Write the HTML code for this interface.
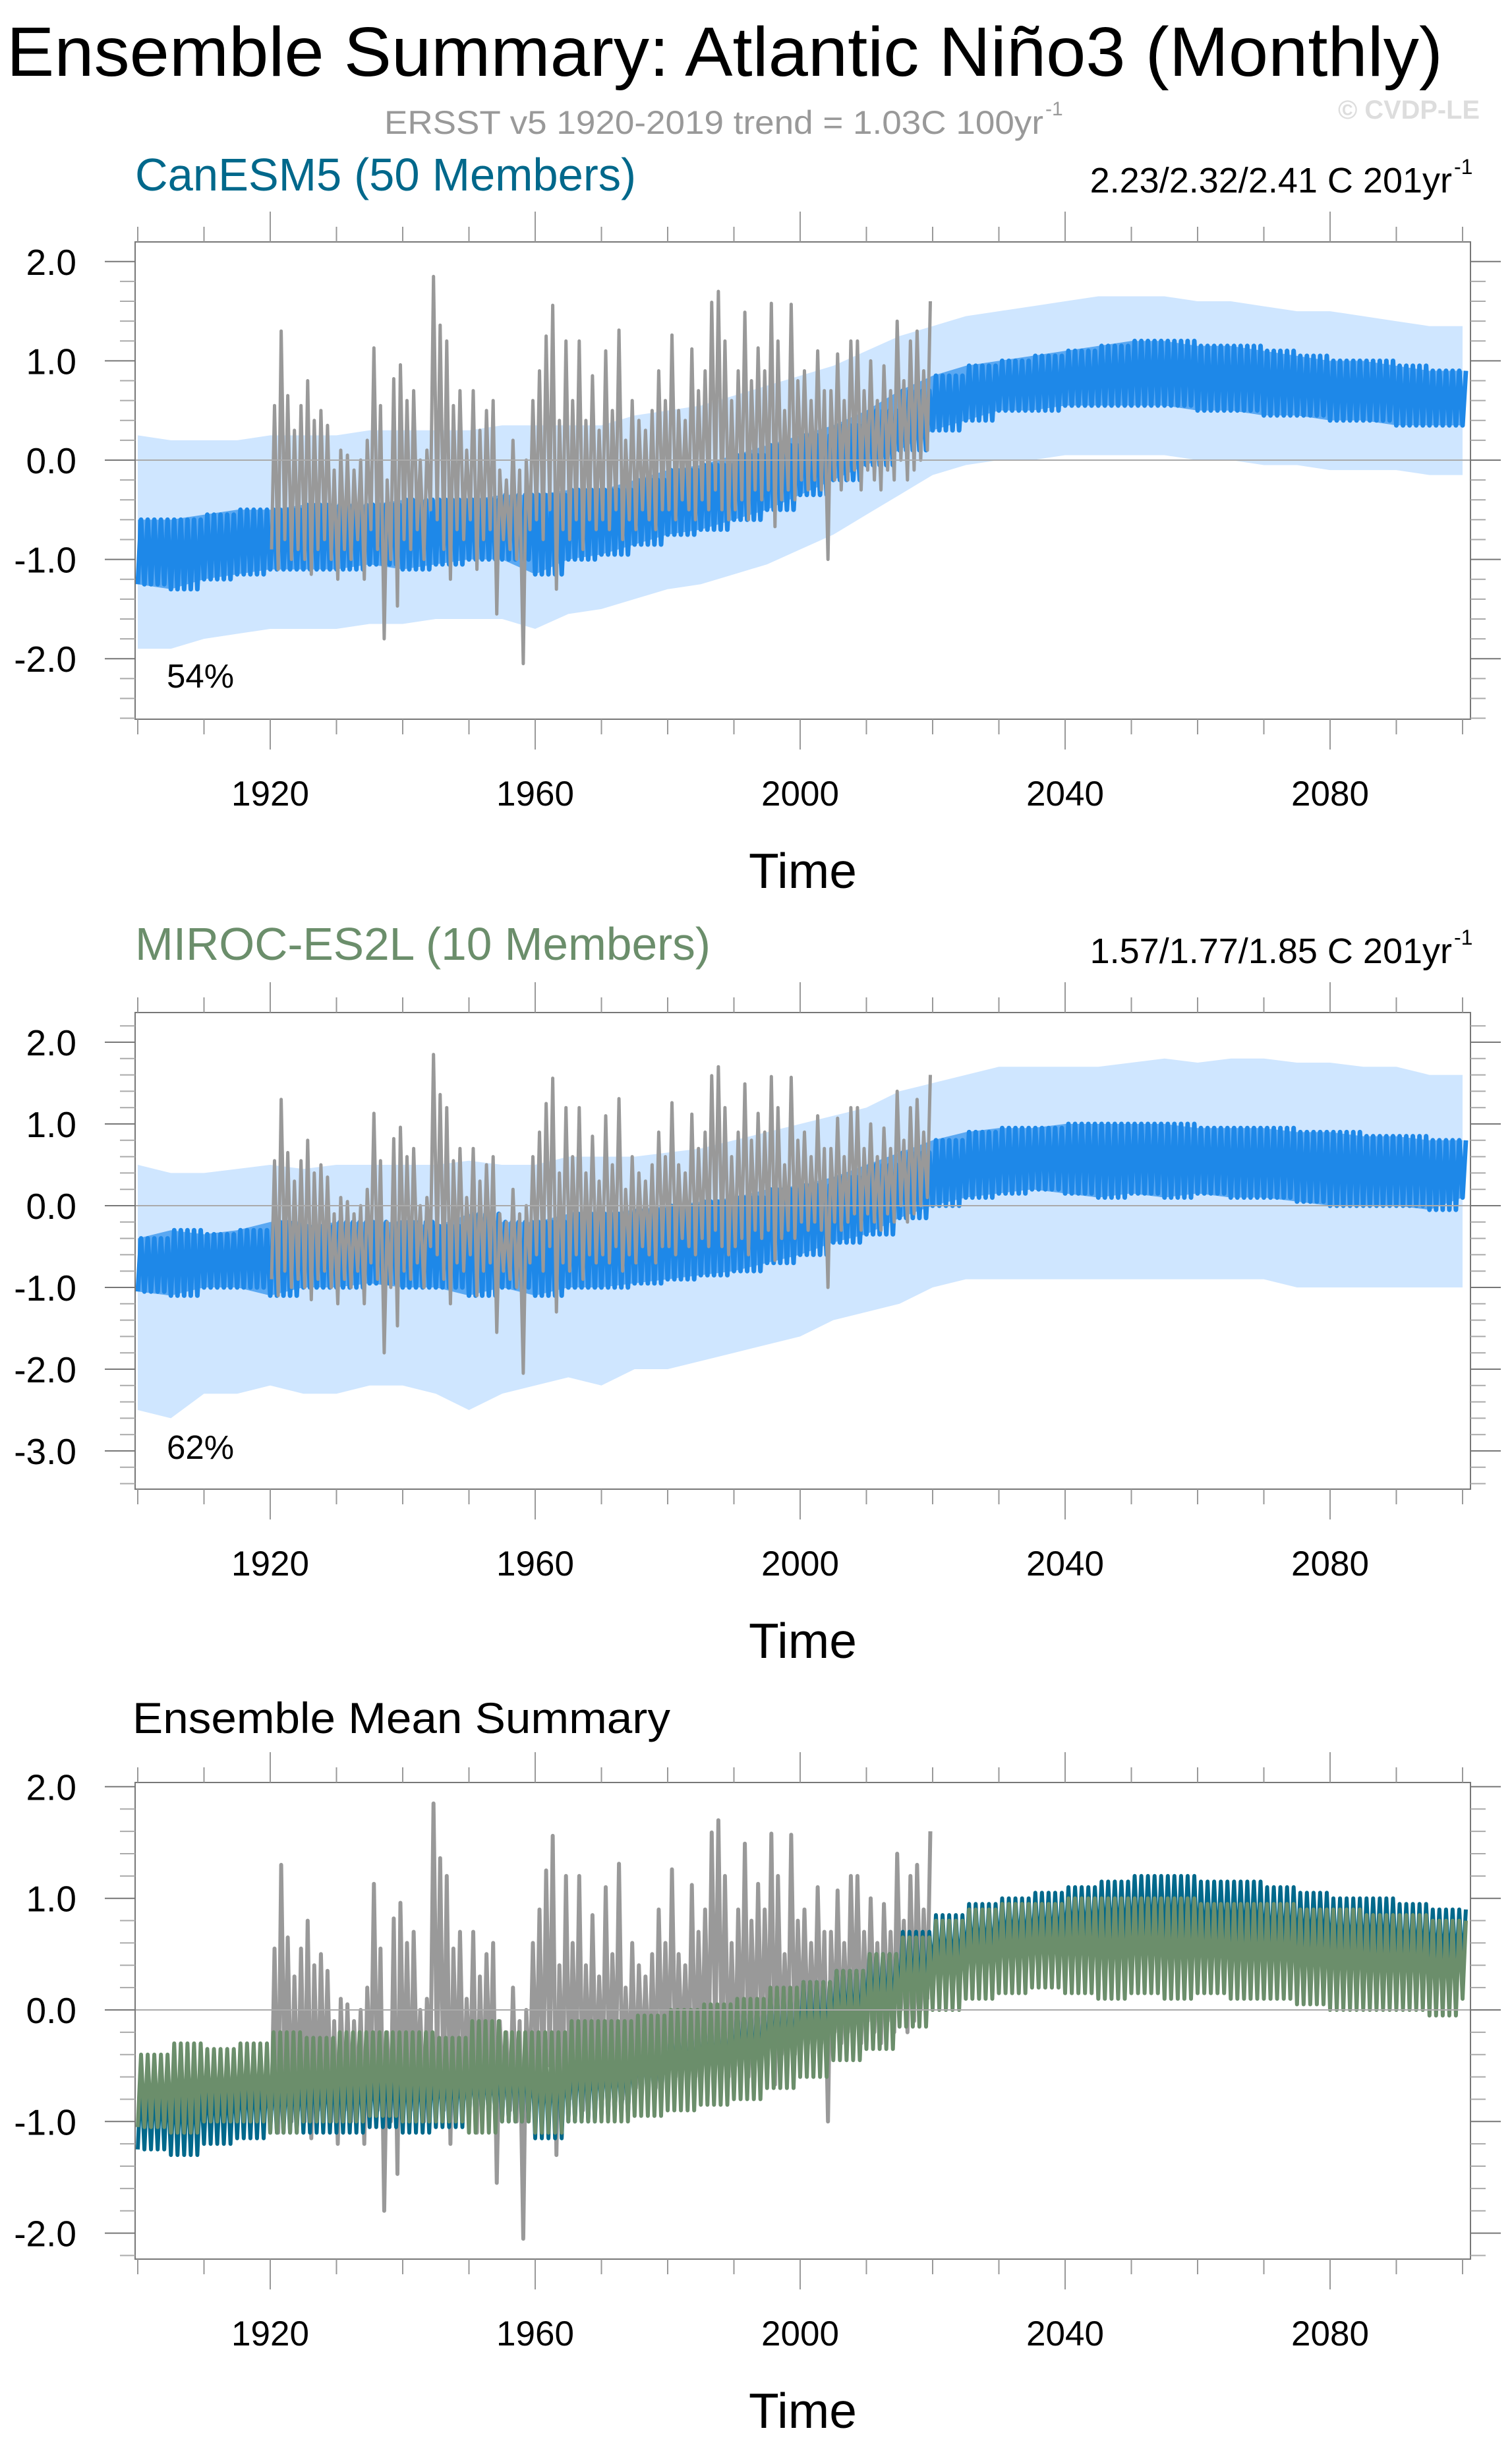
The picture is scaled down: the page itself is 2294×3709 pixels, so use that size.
<!DOCTYPE html>
<html><head><meta charset="utf-8"><style>
html,body{margin:0;padding:0;background:#fff}
svg{display:block;font-family:"Liberation Sans",Arial,sans-serif}
</style></head><body>
<svg id="fig" xmlns="http://www.w3.org/2000/svg" width="2294" height="3709" viewBox="0 0 2294 3709">
<rect width="2294" height="3709" fill="#fff"/>
<text x="10" y="115" font-size="106" textLength="2179" lengthAdjust="spacingAndGlyphs">Ensemble Summary: Atlantic Niño3 (Monthly)</text>
<text x="583" y="203" font-size="50" fill="#999" textLength="1000" lengthAdjust="spacingAndGlyphs">ERSST v5 1920-2019 trend = 1.03C 100yr</text>
<text x="1586" y="175" font-size="30" fill="#999">-1</text>
<text x="2030" y="180" font-size="40" font-weight="bold" fill="#ddd" textLength="215" lengthAdjust="spacingAndGlyphs">© CVDP-LE</text>

<text x="205" y="289" font-size="70" fill="#00688b" textLength="760" lengthAdjust="spacingAndGlyphs">CanESM5 (50 Members)</text>
<text x="2203" y="292" font-size="54" text-anchor="end">2.23/2.32/2.41 C 201yr</text>
<text x="2206" y="264" font-size="32">-1</text>

<text x="205" y="1456" font-size="70" fill="#6b8e6b" textLength="873" lengthAdjust="spacingAndGlyphs">MIROC-ES2L (10 Members)</text>
<text x="2203" y="1461" font-size="54" text-anchor="end">1.57/1.77/1.85 C 201yr</text>
<text x="2206" y="1433" font-size="32">-1</text>

<text x="201" y="2629" font-size="66" textLength="816" lengthAdjust="spacingAndGlyphs">Ensemble Mean Summary</text>
<g id="layers"></g>
</svg>
<script>
const years5 = [1900,1905,1910,1915,1920,1925,1930,1935,1940,1945,1950,1955,1960,1965,1970,1975,1980,1985,1990,1995,2000,2005,2010,2015,2020,2025,2030,2035,2040,2045,2050,2055,2060,2065,2070,2075,2080,2085,2090,2095,2100];
const canMeanLo = [-1.25,-1.3,-1.2,-1.15,-1.1,-1.1,-1.1,-1.05,-1.1,-1.05,-1.0,-1.0,-1.15,-1.0,-0.95,-0.85,-0.75,-0.7,-0.6,-0.5,-0.35,-0.2,-0.05,0.1,0.3,0.4,0.5,0.5,0.55,0.55,0.55,0.55,0.5,0.5,0.45,0.45,0.4,0.4,0.35,0.35,0.35];
const canMeanHi = [-0.6,-0.6,-0.55,-0.5,-0.5,-0.45,-0.45,-0.45,-0.4,-0.4,-0.4,-0.35,-0.35,-0.3,-0.3,-0.2,-0.1,-0.05,0.05,0.15,0.25,0.35,0.5,0.7,0.85,0.95,1.0,1.05,1.1,1.15,1.2,1.2,1.15,1.15,1.1,1.05,1.0,1.0,0.95,0.9,0.9];
const canEnvLo = [-1.9,-1.9,-1.8,-1.75,-1.7,-1.7,-1.7,-1.65,-1.65,-1.6,-1.6,-1.6,-1.7,-1.55,-1.5,-1.4,-1.3,-1.25,-1.15,-1.05,-0.9,-0.75,-0.55,-0.35,-0.15,-0.05,0.0,0.0,0.05,0.05,0.05,0.05,0.0,0.0,-0.05,-0.05,-0.1,-0.1,-0.1,-0.15,-0.15];
const canEnvHi = [0.25,0.2,0.2,0.2,0.25,0.25,0.25,0.3,0.3,0.3,0.3,0.35,0.35,0.35,0.35,0.45,0.5,0.55,0.65,0.75,0.85,0.95,1.1,1.25,1.35,1.45,1.5,1.55,1.6,1.65,1.65,1.65,1.6,1.6,1.55,1.5,1.5,1.45,1.4,1.35,1.35];
const mirMeanLo = [-1.05,-1.1,-1.0,-1.0,-1.1,-1.0,-1.0,-0.95,-1.0,-1.0,-1.1,-1.0,-1.1,-1.0,-1.0,-0.95,-0.9,-0.85,-0.8,-0.7,-0.6,-0.45,-0.35,-0.15,0.0,0.1,0.15,0.2,0.15,0.1,0.15,0.1,0.15,0.1,0.1,0.05,0.0,0.0,0.0,-0.05,0.1];
const mirMeanHi = [-0.4,-0.3,-0.35,-0.3,-0.2,-0.25,-0.2,-0.2,-0.2,-0.25,-0.1,-0.2,-0.2,-0.1,-0.1,-0.05,0.0,0.05,0.1,0.2,0.25,0.35,0.5,0.65,0.8,0.9,0.95,0.95,1.0,1.0,1.0,1.0,0.95,0.95,0.95,0.9,0.9,0.85,0.85,0.8,0.8];
const mirEnvLo = [-2.5,-2.6,-2.3,-2.3,-2.2,-2.3,-2.3,-2.2,-2.2,-2.3,-2.5,-2.3,-2.2,-2.1,-2.2,-2.0,-2.0,-1.9,-1.8,-1.7,-1.6,-1.4,-1.3,-1.2,-1.0,-0.9,-0.9,-0.9,-0.9,-0.9,-0.9,-0.9,-0.9,-0.9,-0.9,-1.0,-1.0,-1.0,-1.0,-1.0,-1.0];
const mirEnvHi = [0.5,0.4,0.4,0.45,0.5,0.45,0.5,0.5,0.5,0.5,0.55,0.5,0.5,0.6,0.6,0.6,0.65,0.7,0.8,0.9,1.0,1.1,1.2,1.4,1.5,1.6,1.7,1.7,1.7,1.7,1.75,1.8,1.75,1.8,1.8,1.75,1.75,1.7,1.7,1.6,1.6];
const obsStart = 1920;
const obsHi = [0.55,1.3,0.65,0.3,0.55,0.8,0.4,0.5,0.35,-0.1, 0.1,0.05,-0.1,0.0,0.2,1.13,0.55,-0.2,0.82,0.96, 0.6,0.7,0.0,0.1,1.85,1.36,1.2,0.55,0.7,0.1, 0.7,0.3,0.5,0.6,-0.1,-0.2,0.2,-0.1,0.0,0.6, 0.9,1.25,1.56,0.4,1.2,0.6,1.2,0.4,0.85,0.3, 1.1,0.5,1.31,0.2,0.6,0.4,0.3,0.5,0.9,0.6, 1.26,0.5,0.4,1.12,0.7,0.9,1.59,1.7,1.2,0.6, 0.9,1.49,0.8,1.13,0.9,1.58,1.2,0.5,1.57,0.8, 0.9,0.6,1.1,0.7,0.7,1.07,0.6,1.2,1.2,0.7, 1.0,0.6,0.95,0.7,1.4,0.8,1.2,1.3,0.9,1.6];
const obsLo = [-0.9,-1.1,-0.8,-1.0,-0.9,-1.0,-1.15,-0.9,-0.8,-1.0, -1.2,-0.9,-1.0,-0.8,-1.2,-0.7,-0.9,-1.8,-1.0,-1.47, -0.8,-0.9,-0.7,-1.0,-0.5,-0.6,-0.9,-1.2,-0.7,-0.8, -0.6,-1.1,-0.8,-0.7,-1.55,-0.8,-0.9,-1.0,-2.05,-0.7, -0.6,-0.8,-0.5,-1.3,-0.7,-0.8,-0.6,-0.9,-0.6,-0.7, -0.6,-0.7,-0.5,-0.8,-0.6,-0.7,-0.5,-0.6,-0.7,-0.5, -0.5,-0.6,-0.4,-0.5,-0.6,-0.4,-0.5,-0.3,-0.5,-0.6, -0.5,-0.4,-0.6,-0.3,-0.4,-0.3,-0.67,-0.4,-0.3,-0.4, -0.2,-0.3,-0.2,-0.3,-1.0,-0.2,-0.3,-0.2,-0.1,-0.3, -0.1,-0.2,-0.3,-0.1,-0.2,0.0,-0.2,-0.1,0.0,0.1];
const xTicks = [1920,1960,2000,2040,2080];
const yTicks1 = [2,1,0,-1,-2];
const yTicks2 = [2,1,0,-1,-2,-3];
const yTicks3 = [2,1,0,-1,-2];

const NS = "http://www.w3.org/2000/svg";
const layers = document.getElementById('layers');
const BOXL = 205, BOXR = 2231;
function xs(yr){ return 209 + (yr - 1900) * 10.05; }
function mk(tag, attrs, parent){ const e = document.createElementNS(NS, tag); for (const k in attrs) e.setAttribute(k, attrs[k]); (parent||layers).appendChild(e); return e; }
function makeY(zero, unit){ return v => zero - v * unit; }

function zigzag(lo, hi, ys){
  const pts = [];
  for (let i = 0; i < years5.length; i++){
    const n = (i === years5.length - 1) ? 1 : 5;
    for (let k = 0; k < n; k++){
      const yr = years5[i] + k;
      pts.push([xs(yr), ys(lo[i])]);
      pts.push([xs(yr + 0.5), ys(hi[i])]);
    }
  }
  return pts;
}
function bandPoly(lo, hi, ys){
  const up = years5.map((yr, i) => [xs(yr), ys(hi[i])]);
  const dn = years5.map((yr, i) => [xs(yr), ys(lo[i])]).reverse();
  return up.concat(dn);
}
function ptsStr(p){ return p.map(q => q[0].toFixed(1) + ',' + q[1].toFixed(1)).join(' '); }
function obsPts(ys){
  const p = [];
  for (let i = 0; i < obsHi.length; i++){
    p.push([xs(obsStart + i + 0.2), ys(obsLo[i])]);
    p.push([xs(obsStart + i + 0.65), ys(obsHi[i])]);
  }
  return p;
}

function axes(g, top, bot, ys, ticks, idx){
  const z = mk('line', {x1: BOXL, x2: BOXR, y1: ys(0), y2: ys(0), stroke: '#aaa', 'stroke-width': 2}, g);
  
  
  const box = mk('rect', {x: BOXL, y: top, width: BOXR - BOXL, height: bot - top, fill: 'none', stroke: '#777', 'stroke-width': 2}, g);
  
  
  for (let yr = 1900; yr <= 2100; yr += 10){
    const major = (yr - 1920) % 40 === 0;
    const L = major ? 46 : 23;
    const x = xs(yr);
    mk('line', {x1: x, x2: x, y1: top, y2: top - L, stroke: '#999', 'stroke-width': 2}, g);
    mk('line', {x1: x, x2: x, y1: bot, y2: bot + L, stroke: '#999', 'stroke-width': 2}, g);
  }
  xTicks.forEach(yr => {
    const t = mk('text', {x: xs(yr), y: bot + 131, 'font-size': 53, 'text-anchor': 'middle'}, g);
    t.textContent = String(yr);
    
    
  });
  const vTop = (ys(0) - top) / (ys(0) - ys(1)), vBot = (ys(0) - bot) / (ys(0) - ys(1));
  for (let m = Math.ceil(vBot * 5); m <= Math.floor(vTop * 5); m++){
    const y = ys(m / 5);
    const major = m % 5 === 0;
    const L = major ? 46 : 23;
    mk('line', {x1: BOXL, x2: BOXL - L, y1: y, y2: y, stroke: major ? '#777' : '#aaa', 'stroke-width': 2}, g);
    mk('line', {x1: BOXR, x2: BOXR + L, y1: y, y2: y, stroke: major ? '#777' : '#aaa', 'stroke-width': 2}, g);
  }
  ticks.forEach(v => {
    const t = mk('text', {x: 116, y: ys(v) + 20, 'font-size': 55, 'text-anchor': 'end'}, g);
    t.textContent = v.toFixed(1);
    
    
  });
  const tt = mk('text', {x: 1218, y: bot + 256, 'font-size': 75, 'text-anchor': 'middle'}, g);
  tt.textContent = 'Time';
  
  
}
function clip(id, top, bot){
  let defs = document.getElementById('defs');
  if (!defs){ defs = mk('defs', {id: 'defs'}); }
  const c = mk('clipPath', {id: id}, defs);
  mk('rect', {x: BOXL, y: top, width: BOXR - BOXL, height: bot - top}, c);
}

function modelPanel(idx, top, bot, zero, unit, ticks, envLo, envHi, mLo, mHi, pctText){
  const ys = makeY(zero, unit);
  const g = mk('g', {});
  
  
  clip('clip' + idx, top, bot);
  const s = mk('g', {'clip-path': 'url(#clip' + idx + ')'}, g);
  const env = mk('polygon', {points: ptsStr(bandPoly(envLo, envHi, ys)), fill: '#cfe6ff', stroke: 'none'}, s);
  
  
  const mid = mk('polygon', {points: ptsStr(bandPoly(mLo, mHi, ys)), fill: '#5aa8f2', stroke: 'none'}, s);
  
  
  const band = mk('polyline', {points: ptsStr(zigzag(mLo, mHi, ys)), fill: 'none', stroke: '#1e88e8', 'stroke-width': 7, 'stroke-linejoin': 'round'}, s);
  
  
  const ob = mk('polyline', {points: ptsStr(obsPts(ys)), fill: 'none', stroke: '#999', 'stroke-width': 5, 'stroke-linejoin': 'round'}, s);
  
  
  axes(g, top, bot, ys, ticks, idx);
  const p = mk('text', {x: 253, y: 0, 'font-size': 51}, g);
  p.textContent = pctText;
  
  
  return {g, ys, p};
}

const p1 = modelPanel(1, 367, 1091, 698, 150.6, yTicks1, canEnvLo, canEnvHi, canMeanLo, canMeanHi, '54%');
p1.p.setAttribute('y', 1043);
const p2 = modelPanel(2, 1536, 2259, 1829, 124, yTicks2, mirEnvLo, mirEnvHi, mirMeanLo, mirMeanHi, '62%');
p2.p.setAttribute('y', 2213);

(function(){
  const top = 2704, bot = 3427;
  const ys = makeY(3049, 169.3);
  const g = mk('g', {});
  
  
  clip('clip3', top, bot);
  const s = mk('g', {'clip-path': 'url(#clip3)'}, g);
  const ob = mk('polyline', {points: ptsStr(obsPts(ys)), fill: 'none', stroke: '#999', 'stroke-width': 6, 'stroke-linejoin': 'round'}, s);
  
  
  const cl = mk('polyline', {points: ptsStr(zigzag(canMeanLo, canMeanHi, ys)), fill: 'none', stroke: '#00688b', 'stroke-width': 6, 'stroke-linejoin': 'round'}, s);
  
  
  const ml = mk('polyline', {points: ptsStr(zigzag(mirMeanLo, mirMeanHi, ys)), fill: 'none', stroke: '#6b8e6b', 'stroke-width': 6, 'stroke-linejoin': 'round'}, s);
  
  
  axes(g, top, bot, ys, yTicks3, 3);
})();
</script>
</body></html>
